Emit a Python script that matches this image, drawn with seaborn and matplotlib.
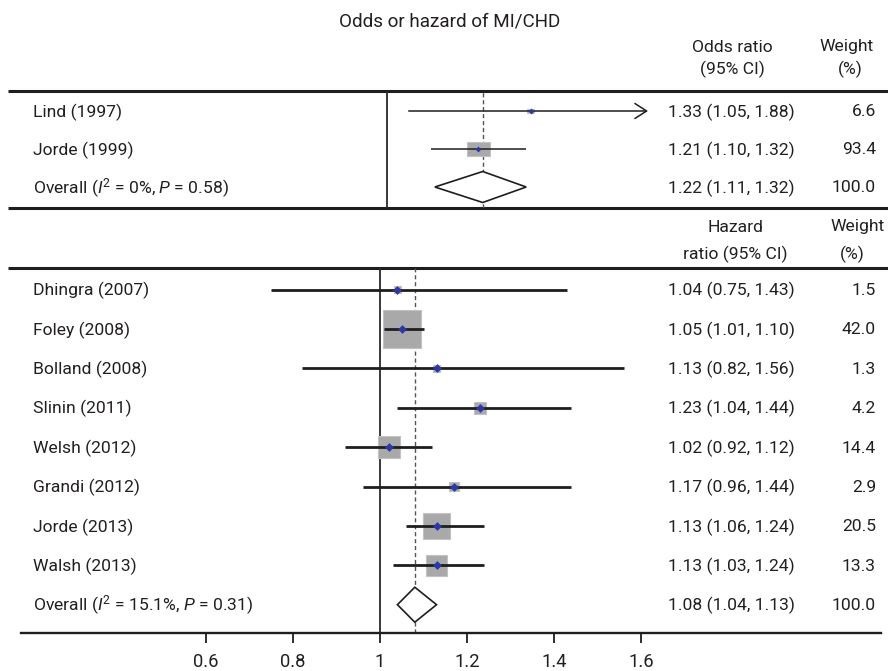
import numpy as np
import matplotlib
matplotlib.use("Agg")
import matplotlib.pyplot as plt
import seaborn as sns
import pandas as pd
from matplotlib import font_manager as fm
from matplotlib.patches import Rectangle, Polygon

# ---------------- data ----------------
title = "Odds or hazard of MI/CHD"

or_studies = ["Lind (1997)", "Jorde (1999)"]
or_est = [1.33, 1.21]
or_lo = [1.05, 1.10]
or_hi = [1.88, 1.32]
or_weight = [6.6, 93.4]
or_overall = [1.22, 1.11, 1.32]
or_overall_weight = 100.0
or_overall_label = r"Overall ($I^2$ = 0%, $P$ = 0.58)"

hr_studies = ["Dhingra (2007)", "Foley (2008)", "Bolland (2008)", "Slinin (2011)",
              "Welsh (2012)", "Grandi (2012)", "Jorde (2013)", "Walsh (2013)"]
hr_est = [1.04, 1.05, 1.13, 1.23, 1.02, 1.17, 1.13, 1.13]
hr_lo = [0.75, 1.01, 0.82, 1.04, 0.92, 0.96, 1.06, 1.03]
hr_hi = [1.43, 1.10, 1.56, 1.44, 1.12, 1.44, 1.24, 1.24]
hr_weight = [1.5, 42.0, 1.3, 4.2, 14.4, 2.9, 20.5, 13.3]
hr_overall = [1.08, 1.04, 1.13]
hr_overall_weight = 100.0
hr_overall_label = r"Overall ($I^2$ = 15.1%, $P$ = 0.31)"

x_ticks = [0.6, 0.8, 1.0, 1.2, 1.4, 1.6]
x_tick_labels = ["0.6", "0.8", "1", "1.2", "1.4", "1.6"]
top_clip = 1.6

# ---------------- style ----------------
sns.set_theme(style="white")


def has_font(name):
    try:
        fm.findfont(fm.FontProperties(family=name), fallback_to_default=False)
        return True
    except Exception:
        return False


FONT = "Roboto" if has_font("Roboto") else "DejaVu Sans"
FS = 12.6
plt.rcParams["font.family"] = [FONT, "DejaVu Sans"]
plt.rcParams["mathtext.fontset"] = "custom"
plt.rcParams["mathtext.rm"] = FONT
plt.rcParams["mathtext.it"] = FONT + ":italic"
plt.rcParams["mathtext.bf"] = FONT + ":bold"

TXT = "#231f20"
LINE = "#1e1e1e"
BLUE = "#2b38a6"
SQ_FACE = "#a9a9a9"
SQ_EDGE = "#c2c2c2"

W, H = 888, 671
PPU = 435.0          # pixels per ratio unit
AX_L, AX_R = 21, 881
NULL_BOT, NULL_TOP = 380, 387

fig = plt.figure(figsize=(W / 100, H / 100), dpi=100)
bg = fig.add_axes([0, 0, 1, 1])
bg.set_xlim(0, W)
bg.set_ylim(H, 0)
bg.axis("off")


def fig_rect(x0, y0, x1, y1):
    return [x0 / W, 1 - y1 / H, (x1 - x0) / W, (y1 - y0) / H]


TOP_Y0, TOP_Y1 = 91, 208
BOT_Y0, BOT_Y1 = 268, 633
ax_top = fig.add_axes(fig_rect(AX_L, TOP_Y0, AX_R, TOP_Y1))
ax_bot = fig.add_axes(fig_rect(AX_L, BOT_Y0, AX_R, BOT_Y1))
ax_top.set_xlim(1 - (NULL_TOP - AX_L) / PPU, 1 + (AX_R - NULL_TOP) / PPU)
ax_bot.set_xlim(1 - (NULL_BOT - AX_L) / PPU, 1 + (AX_R - NULL_BOT) / PPU)
ax_top.set_ylim(TOP_Y1, TOP_Y0)
ax_bot.set_ylim(BOT_Y1, BOT_Y0)
for a in (ax_top, ax_bot):
    a.patch.set_alpha(0)
    for s in ["top", "left", "right"]:
        a.spines[s].set_visible(False)
    a.set_yticks([])
ax_top.spines["bottom"].set_visible(False)
ax_top.set_xticks([])

# rows (pixel layout)
top_rows = 111 + 38.0 * np.arange(len(or_studies) + 1)
bot_rows = 289.5 + 39.4 * np.arange(len(hr_studies) + 1)


def draw_section(ax, rows, est, lo, hi, wts, overall, sq_w, sq_h, ci_lw, dot_s,
                 dia_h, clip=None):
    n = len(est)
    ax.axvline(1.0, color="#2a2a2a", lw=1.3, zorder=1)
    ax.axvline(overall[0], color="#555555", lw=1.0, ls=(0, (3, 2)), zorder=1)
    for i in range(n):
        y = rows[i]
        ww = sq_w * np.sqrt(wts[i])
        hh = sq_h * np.sqrt(wts[i])
        ax.add_patch(Rectangle((est[i] - ww / 2 / PPU, y - hh / 2), ww / PPU, hh,
                               facecolor=SQ_FACE, edgecolor=SQ_EDGE, lw=0.8, zorder=2))
        if clip is not None and hi[i] > clip:
            ax.annotate("", xy=(clip, y), xytext=(lo[i], y),
                        arrowprops=dict(arrowstyle="->,head_length=0.7,head_width=0.45",
                                        lw=ci_lw, color=LINE, shrinkA=0, shrinkB=0),
                        zorder=3)
        else:
            ax.hlines(y, lo[i], hi[i], color=LINE, lw=ci_lw, zorder=3)
    df = pd.DataFrame({"est": est, "y": rows[:n]})
    sns.scatterplot(data=df, x="est", y="y", ax=ax, color=BLUE, s=dot_s, marker="D",
                    linewidth=0, zorder=5, legend=False)
    ax.set_xlabel("")
    ax.set_ylabel("")
    yo = rows[n]
    ax.add_patch(Polygon([(overall[1], yo), (overall[0], yo - dia_h / 2),
                          (overall[2], yo), (overall[0], yo + dia_h / 2)],
                         closed=True, facecolor="white", edgecolor=LINE, lw=1.2,
                         zorder=4))


draw_section(ax_top, top_rows, or_est, or_lo, or_hi, or_weight, or_overall,
             sq_w=2.4, sq_h=1.45, ci_lw=1.1, dot_s=9, dia_h=31, clip=top_clip)
draw_section(ax_bot, bot_rows, hr_est, hr_lo, hr_hi, hr_weight, hr_overall,
             sq_w=5.86, sq_h=5.86, ci_lw=2.0, dot_s=20, dia_h=35)
ax_top.set_xticks([])
ax_top.set_yticks([])

# bottom axis
ax_bot.spines["bottom"].set_linewidth(1.7)
ax_bot.spines["bottom"].set_color(LINE)
ax_bot.set_xticks(x_ticks)
ax_bot.set_xticklabels(x_tick_labels)
ax_bot.tick_params(axis="x", direction="out", length=7.5, width=1.3, color=LINE,
                   pad=7, labelsize=FS + 0.6, labelcolor=TXT, bottom=True)
ax_bot.set_yticks([])

# rules across
bg.hlines([TOP_Y0, TOP_Y1, BOT_Y0], 8, W, color=LINE, lw=2.2)

# texts
kw = dict(fontsize=FS, color=TXT, va="center")
bg.text(450, 22, title, ha="center", fontsize=FS + 1, color=TXT, va="center")
bg.text(732, 47, "Odds ratio", ha="center", **kw)
bg.text(732, 69, "(95% CI)", ha="center", **kw)
bg.text(847, 47, "Weight", ha="center", **kw)
bg.text(850, 69, "(%)", ha="center", **kw)
bg.text(735, 227, "Hazard", ha="center", **kw)
bg.text(735, 254, "ratio (95% CI)", ha="center", **kw)
bg.text(858, 227, "Weight", ha="center", **kw)
bg.text(852, 254, "(%)", ha="center", **kw)

LABEL_X, RATIO_R, WT_R = 33, 795, 876
for i, s in enumerate(or_studies):
    y = top_rows[i] + 1
    bg.text(LABEL_X, y, s, ha="left", **kw)
    bg.text(RATIO_R, y, f"{or_est[i]:.2f} ({or_lo[i]:.2f}, {or_hi[i]:.2f})", ha="right", **kw)
    bg.text(WT_R, y, f"{or_weight[i]:.1f}", ha="right", **kw)
y = top_rows[-1] + 1
bg.text(LABEL_X, y, or_overall_label, ha="left", **kw)
bg.text(RATIO_R, y, f"{or_overall[0]:.2f} ({or_overall[1]:.2f}, {or_overall[2]:.2f})", ha="right", **kw)
bg.text(WT_R, y, f"{or_overall_weight:.1f}", ha="right", **kw)

for i, s in enumerate(hr_studies):
    y = bot_rows[i] + 1
    bg.text(LABEL_X, y, s, ha="left", **kw)
    bg.text(RATIO_R, y, f"{hr_est[i]:.2f} ({hr_lo[i]:.2f}, {hr_hi[i]:.2f})", ha="right", **kw)
    bg.text(WT_R, y, f"{hr_weight[i]:.1f}", ha="right", **kw)
y = bot_rows[-1] + 1
bg.text(LABEL_X, y, hr_overall_label, ha="left", **kw)
bg.text(RATIO_R, y, f"{hr_overall[0]:.2f} ({hr_overall[1]:.2f}, {hr_overall[2]:.2f})", ha="right", **kw)
bg.text(WT_R, y, f"{hr_overall_weight:.1f}", ha="right", **kw)

fig.savefig("out.png", dpi=100)
